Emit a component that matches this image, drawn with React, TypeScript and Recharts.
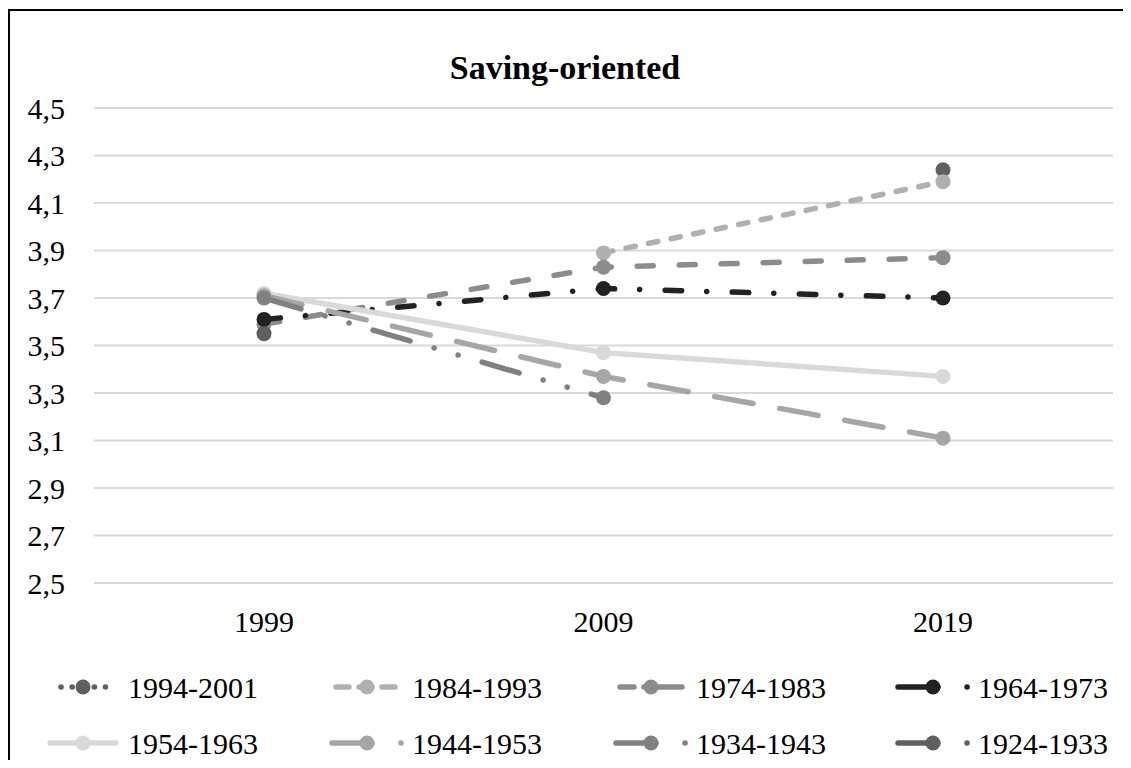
import React from "react"
import { CartesianGrid, Legend, Line, LineChart, XAxis, YAxis } from "recharts"

const FONT = "'Liberation Serif', 'Times New Roman', serif"

const years = ["1999", "2009", "2019"]
const yTicks = [2.5, 2.7, 2.9, 3.1, 3.3, 3.5, 3.7, 3.9, 4.1, 4.3, 4.5]

const cohort1994 = [null, null, 4.24]
const cohort1984 = [null, 3.89, 4.19]
const cohort1974 = [3.59, 3.83, 3.87]
const cohort1964 = [3.61, 3.74, 3.7]
const cohort1954 = [3.72, 3.47, 3.37]
const cohort1944 = [3.71, 3.37, 3.11]
const cohort1934 = [3.7, 3.28, null]
const cohort1924 = [3.55, null, null]

// styling per cohort (Excel-like dash types); legend line gets its own pattern + start offset
const series = [
  { name: "1994-2001", values: cohort1994, color: "#5f5f5f", dash: "0.1 9", legendDash: "0.1 11", legendStart: 13, legendEnd: 58 },
  { name: "1984-1993", values: cohort1984, color: "#b0b0b0", dash: "9.5 13.5", legendDash: "13 10", legendStart: 4, legendEnd: 66 },
  { name: "1974-1983", values: cohort1974, color: "#8c8c8c", dash: "16 26", legendDash: "14 10 40 0", legendStart: 4, legendEnd: 66 },
  { name: "1964-1973", values: cohort1964, color: "#222222", dash: "16.5 25 0.1 25.5", legendDash: "40 29 0.1 40", legendStart: 0, legendEnd: 70 },
  { name: "1954-1963", values: cohort1954, color: "#d9d9d9", dash: undefined, legendDash: undefined, legendStart: 2, legendEnd: 68 },
  { name: "1944-1953", values: cohort1944, color: "#a6a6a6", dash: "39 27", legendDash: "40 29 0.1 40", legendStart: 0, legendEnd: 70 },
  { name: "1934-1943", values: cohort1934, color: "#808080", dash: "38.5 25 0.1 25 0.1 25", legendDash: "40 29 0.1 40", legendStart: 0, legendEnd: 70 },
  { name: "1924-1933", values: cohort1924, color: "#5f5f5f", dash: "38.5 25 0.1 25 0.1 25", legendDash: "40 29 0.1 40", legendStart: 0, legendEnd: 70 },
]

const data = years.map((year, i) => {
  const row: Record<string, string | number | null> = { year }
  series.forEach((s) => {
    row[s.name] = s.values[i]
  })
  return row
})

const WIDTH = 1121
const HEIGHT = 749
const LEGEND_COLS = [38, 322, 606, 888]
const LEGEND_ROWS = [46, 102]

function LegendBlock() {
  return (
    <svg width={WIDTH} height={120} style={{ display: "block" }}>
      {series.map((s, i) => {
        const x = LEGEND_COLS[i % 4]
        const y = LEGEND_ROWS[Math.floor(i / 4)]
        return (
          <g key={s.name}>
            <line
              x1={x + s.legendStart}
              x2={x + s.legendEnd}
              y1={y}
              y2={y}
              stroke={s.color}
              strokeWidth={5.5}
              strokeLinecap="round"
              strokeDasharray={s.legendDash}
            />
            <circle cx={x + 35} cy={y} r={7.5} fill={s.color} />
            <text x={x + 80} y={y} dy="0.35em" fontSize={30} fontFamily={FONT} fill="#000">
              {s.name}
            </text>
          </g>
        )
      })}
    </svg>
  )
}

export default function App() {
  return (
    <div
      style={{
        marginTop: 1,
        borderTop: "2px solid #000",
        borderLeft: "2px solid #000",
        width: WIDTH,
        height: HEIGHT,
        position: "relative",
        fontFamily: FONT,
      }}
    >
      <div
        style={{
          position: "absolute",
          top: 40,
          left: 0,
          width: 1110,
          textAlign: "center",
          fontSize: 34,
          fontWeight: "bold",
          lineHeight: "34px",
          color: "#000",
        }}
      >
        Saving-oriented
      </div>
      <LineChart width={WIDTH} height={HEIGHT} data={data} margin={{ top: 97, right: 18, left: 0, bottom: 7 }}>
        <CartesianGrid vertical={false} stroke="#d9d9d9" strokeWidth={2} />
        <XAxis
          dataKey="year"
          axisLine={false}
          tickLine={false}
          tickSize={8}
          tickMargin={20}
          height={50}
          padding={{ left: 170, right: 170 }}
          tick={{ fontSize: 30, fontFamily: FONT, fill: "#000" }}
        />
        <YAxis
          domain={[2.5, 4.5]}
          ticks={yTicks}
          width={84}
          axisLine={false}
          tickLine={false}
          tickSize={8}
          tickMargin={21}
          interval={0}
          tickFormatter={(v: number) => v.toFixed(1).replace(".", ",")}
          tick={{ fontSize: 30, fontFamily: FONT, fill: "#000" }}
        />
        <Legend
          verticalAlign="bottom"
          content={() => <LegendBlock />}
          wrapperStyle={{ top: 630, bottom: "auto", left: 0, width: WIDTH, height: 120 }}
        />
        {series.map((s) => (
          <Line
            key={s.name}
            type="linear"
            dataKey={s.name}
            name={s.name}
            stroke={s.color}
            strokeWidth={5.5}
            strokeLinecap="round"
            strokeDasharray={s.dash}
            dot={{ r: 7.5, fill: s.color, stroke: "none", strokeDasharray: "none" }}
            activeDot={false}
            isAnimationActive={false}
          />
        ))}
      </LineChart>
    </div>
  )
}
